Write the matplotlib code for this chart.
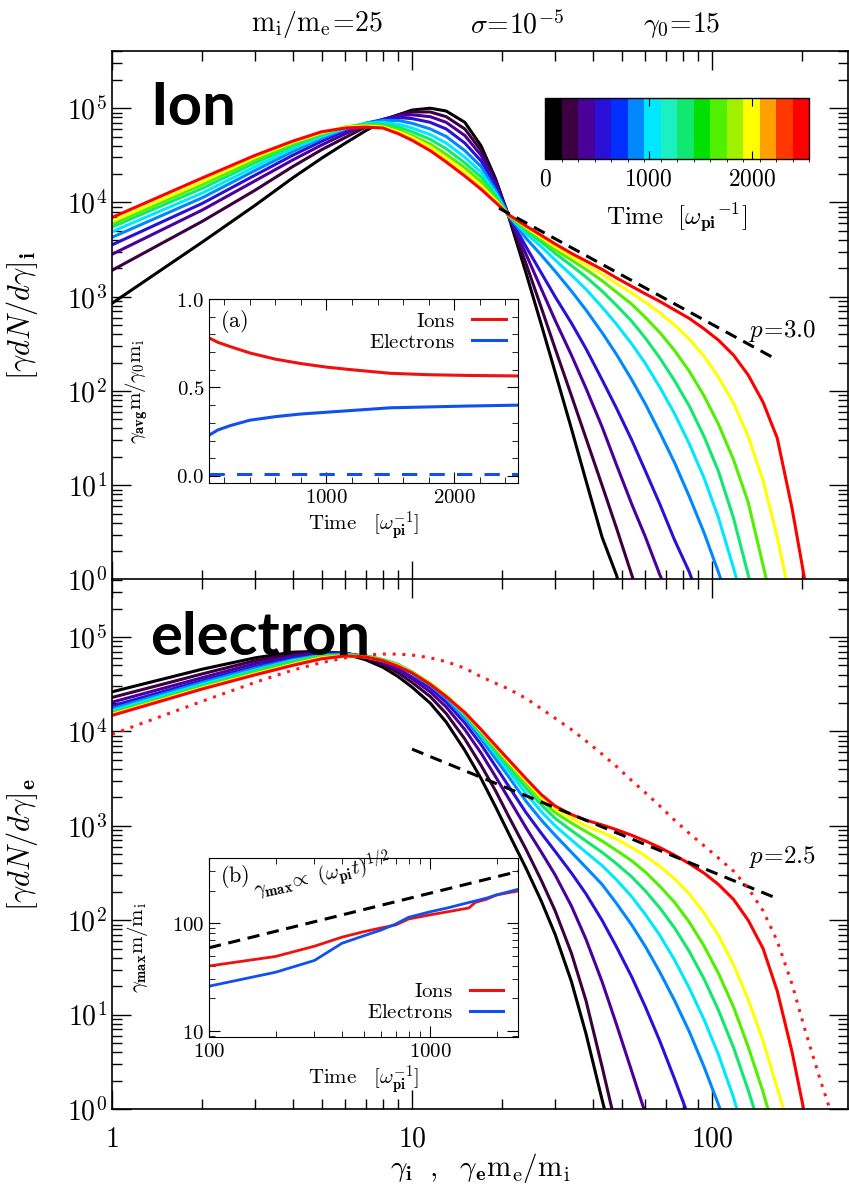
import numpy as np
import matplotlib
matplotlib.use("Agg")
import matplotlib.pyplot as plt
from matplotlib.colors import ListedColormap, BoundaryNorm
from matplotlib.ticker import FixedLocator, FuncFormatter, LogLocator, NullFormatter, MultipleLocator
from matplotlib.lines import Line2D
import matplotlib.cm as cm

plt.rcParams['mathtext.fontset'] = 'cm'
plt.rcParams['font.family'] = ['DejaVu Serif']

# ---- data (spectra given as log10 of gamma dN/dgamma) ----
gam = [1, 2, 3, 4, 5, 6, 7, 8, 9, 10, 11.5, 13, 15, 17, 19, 21, 24, 27, 30, 34, 38, 43, 48,
       54, 60, 67, 75, 84, 94, 105, 118, 132, 148, 165, 185, 205, 230, 250]
times = [0, 200, 380, 560, 800, 1050, 1350, 1650, 2000, 2500]

ion_0000 = [2.93, 3.58, 3.97, 4.26, 4.47, 4.63, 4.76, 4.86, 4.93, 4.98, 5.00, 4.97, 4.85, 4.60, 4.25, 3.85,
            3.25, 2.70, 2.20, 1.60, 1.05, 0.45, 0.05, -0.5]
ion_0200 = [3.28, 3.80, 4.13, 4.38, 4.56, 4.69, 4.80, 4.88, 4.93, 4.96, 4.96, 4.91, 4.78, 4.55, 4.23, 3.86,
            3.35, 2.88, 2.45, 1.95, 1.50, 1.00, 0.55, 0.05, -0.4]
ion_0380 = [3.45, 3.92, 4.23, 4.45, 4.61, 4.73, 4.82, 4.88, 4.92, 4.93, 4.91, 4.85, 4.71, 4.50, 4.20, 3.86,
            3.45, 3.08, 2.75, 2.38, 2.03, 1.62, 1.22, 0.80, 0.45, 0.05, -0.3]
ion_0560 = [3.55, 3.99, 4.29, 4.50, 4.65, 4.76, 4.84, 4.88, 4.90, 4.89, 4.85, 4.78, 4.63, 4.44, 4.17, 3.86,
            3.53, 3.25, 3.00, 2.72, 2.45, 2.12, 1.82, 1.48, 1.15, 0.80, 0.42, 0.08, -0.35]
ion_0800 = [3.63, 4.05, 4.34, 4.54, 4.68, 4.78, 4.84, 4.87, 4.87, 4.84, 4.78, 4.70, 4.55, 4.38, 4.13, 3.86,
            3.62, 3.44, 3.27, 3.06, 2.86, 2.62, 2.39, 2.12, 1.86, 1.56, 1.24, 0.88, 0.50, 0.08, -0.4]
ion_1050 = [3.69, 4.10, 4.38, 4.57, 4.70, 4.79, 4.84, 4.85, 4.83, 4.79, 4.72, 4.63, 4.48, 4.32, 4.10, 3.86,
            3.67, 3.53, 3.39, 3.23, 3.08, 2.89, 2.71, 2.50, 2.29, 2.04, 1.76, 1.44, 1.08, 0.66, 0.12, -0.45]
ion_1350 = [3.74, 4.15, 4.42, 4.60, 4.72, 4.80, 4.83, 4.83, 4.80, 4.75, 4.67, 4.57, 4.42, 4.27, 4.07, 3.86,
            3.70, 3.58, 3.46, 3.33, 3.21, 3.06, 2.91, 2.74, 2.56, 2.35, 2.11, 1.84, 1.52, 1.15, 0.65, 0.05, -0.6]
ion_1650 = [3.77, 4.19, 4.45, 4.62, 4.73, 4.80, 4.82, 4.81, 4.77, 4.71, 4.62, 4.51, 4.37, 4.22, 4.04, 3.86,
            3.72, 3.61, 3.50, 3.39, 3.29, 3.17, 3.05, 2.92, 2.78, 2.62, 2.43, 2.21, 1.95, 1.65, 1.27, 0.82,
            0.15, -0.5]
ion_2000 = [3.80, 4.22, 4.48, 4.64, 4.74, 4.80, 4.81, 4.80, 4.75, 4.69, 4.59, 4.47, 4.32, 4.18, 4.02, 3.87,
            3.74, 3.63, 3.53, 3.43, 3.34, 3.24, 3.14, 3.04, 2.94, 2.83, 2.70, 2.55, 2.37, 2.15, 1.87, 1.52,
            1.05, 0.45, -0.3]
ion_2500 = [3.84, 4.26, 4.50, 4.65, 4.75, 4.79, 4.80, 4.79, 4.73, 4.66, 4.55, 4.43, 4.28, 4.14, 4.00, 3.87,
            3.75, 3.65, 3.56, 3.46, 3.38, 3.29, 3.20, 3.11, 3.03, 2.95, 2.86, 2.77, 2.66, 2.54, 2.38, 2.17,
            1.88, 1.50, 0.75, -0.05, -0.9]

el_0000 = [4.42, 4.66, 4.78, 4.84, 4.85, 4.82, 4.76, 4.68, 4.58, 4.47, 4.30, 4.10, 3.80, 3.50, 3.20, 2.92,
           2.55, 2.20, 1.85, 1.35, 0.80, 0.10, -0.5]
el_0200 = [4.36, 4.61, 4.75, 4.82, 4.84, 4.83, 4.78, 4.71, 4.62, 4.52, 4.37, 4.19, 3.92, 3.64, 3.37, 3.10,
           2.75, 2.42, 2.10, 1.65, 1.15, 0.45, -0.2]
el_0380 = [4.31, 4.57, 4.72, 4.80, 4.83, 4.83, 4.79, 4.73, 4.65, 4.56, 4.42, 4.26, 4.02, 3.77, 3.52, 3.29,
           2.98, 2.72, 2.48, 2.15, 1.80, 1.35, 0.90, 0.40, -0.05, -0.5]
el_0560 = [4.27, 4.54, 4.69, 4.78, 4.82, 4.82, 4.80, 4.75, 4.68, 4.59, 4.46, 4.31, 4.09, 3.86, 3.63, 3.42,
           3.14, 2.92, 2.73, 2.50, 2.28, 2.00, 1.72, 1.40, 1.08, 0.72, 0.32, -0.10]
el_0800 = [4.24, 4.52, 4.67, 4.76, 4.81, 4.82, 4.80, 4.76, 4.70, 4.61, 4.49, 4.35, 4.14, 3.92, 3.71, 3.52,
           3.26, 3.06, 2.90, 2.72, 2.56, 2.38, 2.18, 1.95, 1.72, 1.45, 1.15, 0.82, 0.45, 0.05, -0.4]
el_1050 = [4.22, 4.50, 4.65, 4.75, 4.80, 4.81, 4.80, 4.76, 4.71, 4.62, 4.50, 4.37, 4.17, 3.96, 3.76, 3.58,
           3.34, 3.15, 3.00, 2.85, 2.72, 2.58, 2.43, 2.25, 2.06, 1.84, 1.58, 1.28, 0.95, 0.58, 0.12, -0.4]
el_1350 = [4.20, 4.48, 4.64, 4.74, 4.80, 4.81, 4.80, 4.76, 4.71, 4.63, 4.51, 4.38, 4.18, 3.98, 3.79, 3.62,
           3.40, 3.22, 3.08, 2.95, 2.84, 2.72, 2.60, 2.46, 2.31, 2.13, 1.92, 1.67, 1.38, 1.05, 0.65, 0.20, -0.3]
el_1650 = [4.19, 4.47, 4.62, 4.72, 4.79, 4.81, 4.80, 4.76, 4.70, 4.63, 4.51, 4.38, 4.19, 4.00, 3.82, 3.66,
           3.45, 3.27, 3.14, 3.03, 2.94, 2.84, 2.74, 2.63, 2.51, 2.36, 2.19, 1.98, 1.73, 1.44, 1.08, 0.66,
           0.18, -0.35]
el_2000 = [4.18, 4.46, 4.61, 4.71, 4.78, 4.80, 4.79, 4.75, 4.70, 4.62, 4.51, 4.38, 4.20, 4.01, 3.84, 3.68,
           3.48, 3.30, 3.18, 3.08, 3.00, 2.93, 2.86, 2.77, 2.68, 2.57, 2.44, 2.28, 2.08, 1.84, 1.53, 1.16,
           0.72, 0.22, -0.3]
el_2500 = [4.17, 4.45, 4.60, 4.70, 4.77, 4.80, 4.79, 4.75, 4.69, 4.62, 4.50, 4.37, 4.20, 4.02, 3.85, 3.70,
           3.50, 3.33, 3.21, 3.12, 3.06, 3.01, 2.96, 2.90, 2.84, 2.77, 2.69, 2.60, 2.50, 2.38, 2.22, 2.00,
           1.70, 1.25, 0.60, -0.10]
el_dotted = [3.97, 4.32, 4.52, 4.65, 4.73, 4.78, 4.81, 4.82, 4.82, 4.81, 4.78, 4.74, 4.67, 4.58, 4.51, 4.45,
             4.35, 4.24, 4.14, 4.02, 3.90, 3.76, 3.63, 3.48, 3.35, 3.21, 3.06, 2.92, 2.79, 2.66, 2.52, 2.34,
             2.10, 1.78, 1.32, 0.82, 0.30, -0.05]

ion_curves = [ion_0000, ion_0200, ion_0380, ion_0560, ion_0800, ion_1050, ion_1350, ion_1650, ion_2000, ion_2500]
el_curves = [el_0000, el_0200, el_0380, el_0560, el_0800, el_1050, el_1350, el_1650, el_2000, el_2500]

# power-law guide lines
ion_pl_x = [19.5, 165]
ion_pl_y = [8700, 214]
el_pl_x = [10, 165]
el_pl_y = [6500, 170]

# inset (a): average Lorentz factor
avg_t = [80, 150, 250, 400, 600, 800, 1000, 1200, 1500, 1800, 2100, 2500]
avg_ion = [0.78, 0.755, 0.73, 0.695, 0.66, 0.635, 0.615, 0.60, 0.58, 0.572, 0.568, 0.565]
avg_el = [0.23, 0.26, 0.285, 0.315, 0.335, 0.35, 0.36, 0.37, 0.385, 0.39, 0.395, 0.40]
avg_ref = [0.01, 0.01]
avg_ref_t = [80, 2500]

# inset (b): maximum Lorentz factor
max_t = [100, 200, 300, 400, 500, 600, 700, 800, 1000, 1200, 1500, 1600, 1800, 2000, 2500]
max_ion = [40, 49, 61, 74, 83, 90, 96, 109, 119, 127, 138, 155, 166, 182, 198]
max_el = [26, 35, 45, 65, 76, 86, 98, 113, 127, 138, 155, 160, 170, 182, 205]
max_ref_t = [100, 2500]
max_ref = [59, 300]

# colour table of the colour bar
bar_colors = ['#000000', '#3c0040', '#4a0099', '#2b10d8', '#0030ff', '#0088ff',
              '#00e8ff', '#1cf0c0', '#10e870', '#00e000', '#50f000', '#a0f000',
              '#ffff00', '#ffa000', '#ff3800', '#ff0000']
t_max = 2550

W, H = 849, 1189


def box(x0, y0, x1, y1):
    return [x0 / W, 1 - y1 / H, (x1 - x0) / W, (y1 - y0) / H]


cmap = ListedColormap(bar_colors)
norm = BoundaryNorm(np.linspace(0, t_max, len(bar_colors) + 1), cmap.N)

fig = plt.figure(figsize=(W / 100, H / 100), dpi=100)
ax1 = fig.add_axes(box(112, 50.7, 848, 579.5))
ax2 = fig.add_axes(box(112, 579.5, 848, 1109))

pow_fmt = FuncFormatter(lambda v, p: r'$10^{%d}$' % round(np.log10(v)))
x_fmt = FuncFormatter(lambda v, p: r'$%d$' % round(v))

for ax, curves, pl_x, pl_y in [(ax1, ion_curves, ion_pl_x, ion_pl_y),
                               (ax2, el_curves, el_pl_x, el_pl_y)]:
    for t, c in zip(times, curves):
        ax.plot(gam[:len(c)], 10 ** np.array(c), color=cmap(norm(t)), lw=2.2)
    ax.plot(pl_x, pl_y, 'k--', lw=2.2, dashes=(4, 2.5))
    ax.set_xscale('log')
    ax.set_yscale('log')
    ax.set_xlim(1, 10 ** ((848 - 112) / 300))
    ax.set_ylim(1, 10 ** 5.61)
    ax.yaxis.set_major_locator(LogLocator(10, numticks=10))
    ax.yaxis.set_major_formatter(pow_fmt)
    ax.yaxis.set_minor_locator(LogLocator(10, subs=np.arange(2, 10), numticks=20))
    ax.yaxis.set_minor_formatter(NullFormatter())
    ax.xaxis.set_minor_formatter(NullFormatter())
    ax.tick_params(which='both', direction='in', top=True, right=True, labelsize=20)
    ax.tick_params(which='major', length=14, width=1)
    ax.tick_params(which='minor', length=7, width=1)
    for s in ax.spines.values():
        s.set_linewidth(1.2)

ax2.plot(gam[:len(el_dotted)], 10 ** np.array(el_dotted), color='#ff1a1a', lw=2.2, ls=(0, (1, 2.2)))

ax1.xaxis.set_major_formatter(NullFormatter())
ax2.xaxis.set_major_formatter(x_fmt)
ax2.tick_params(axis='x', pad=12)

ax1.set_ylabel(r'$[\gamma dN/d\gamma]_{\mathbf{i}}$', fontsize=22)
ax2.set_ylabel(r'$[\gamma dN/d\gamma]_{\mathbf{e}}$', fontsize=22)
ax1.yaxis.set_label_coords(-0.098, 0.5)
ax2.yaxis.set_label_coords(-0.098, 0.5)
fig.text(480 / W, 1 - 1168 / H, r'$\gamma_{\mathbf{i}}\ \ ,\ \ \gamma_{\mathbf{e}}\mathrm{m_e/m_i}$',
         fontsize=21, ha='center', va='center')

fig.text(317 / W, 1 - 25 / H, r'$\mathrm{m_i/m_e}\!=\!25$', fontsize=20, ha='center', va='center')
fig.text(517 / W, 1 - 25 / H, r'$\sigma\!=\!10^{-5}$', fontsize=20, ha='center', va='center')
fig.text(682 / W, 1 - 25 / H, r'$\gamma_0\!=\!15$', fontsize=20, ha='center', va='center')

ax1.text(0.052, 0.859, 'Ion', transform=ax1.transAxes, fontsize=43, fontweight='bold',
         family='Lato', va='baseline', ha='left')
ax2.text(0.052, 0.858, 'electron', transform=ax2.transAxes, fontsize=43, fontweight='bold',
         family='Lato', va='baseline', ha='left')

ax1.text(172, 430, r'$p\!=\!3.0$', fontsize=18, ha='center', va='center')
ax2.text(172, 470, r'$p\!=\!2.5$', fontsize=18, ha='center', va='center')

# colour bar
cax = fig.add_axes(box(545, 98, 809, 159))
cb = fig.colorbar(cm.ScalarMappable(norm=norm, cmap=cmap), cax=cax, orientation='horizontal')
cb.set_ticks([0, 1000, 2000])
cb.set_ticklabels([r'$0$', r'$1000$', r'$2000$'])
cax.tick_params(direction='in', length=6, top=True, bottom=True, labelsize=17, pad=6)
cb.outline.set_linewidth(1.0)
cax.set_xlabel(r'$\mathrm{Time}\ \ [\omega_{\mathbf{pi}}{}^{-1}]$', fontsize=18, labelpad=8)

# inset (a)
axa = fig.add_axes(box(209, 299, 518, 483))
axa.plot(avg_t, avg_ion, color='#ee1111', lw=2.2)
axa.plot(avg_t, avg_el, color='#1150ee', lw=2.2)
axa.plot(avg_ref_t, avg_ref, color='#1150ee', lw=2.2, ls=(0, (5, 4)))
axa.set_xlim(80, 2500)
axa.set_ylim(-0.04, 1.0)
axa.xaxis.set_major_locator(FixedLocator([1000, 2000]))
axa.xaxis.set_minor_locator(MultipleLocator(200))
axa.yaxis.set_major_locator(FixedLocator([0.0, 0.5, 1.0]))
axa.yaxis.set_minor_locator(MultipleLocator(0.1))
axa.yaxis.set_major_formatter(FuncFormatter(lambda v, p: r'$%.1f$' % v))
axa.xaxis.set_major_formatter(FuncFormatter(lambda v, p: r'$%d$' % v))
axa.tick_params(which='both', direction='in', top=True, right=True, labelsize=15)
axa.tick_params(which='major', length=8)
axa.tick_params(which='minor', length=4)
axa.set_xlabel(r'$\mathrm{Time}\ \ \ [\omega_{\mathbf{pi}}^{-1}]$', fontsize=15, labelpad=2)
axa.set_ylabel(r'$\gamma_{\mathbf{avg}}\mathrm{m}/\gamma_0\mathrm{m_i}$', fontsize=15)
axa.yaxis.set_label_coords(-0.19, 0.5)
axa.text(0.035, 0.95, r'$\mathrm{(a)}$', transform=axa.transAxes, fontsize=16, va='top')
ha = [Line2D([], [], color='#ee1111', lw=2.2), Line2D([], [], color='#1150ee', lw=2.2)]
axa.legend(ha, [r'$\mathrm{Ions}$', r'$\mathrm{Electrons}$'], loc='upper right', frameon=False,
           markerfirst=False, fontsize=15, handlelength=1.6, borderaxespad=0.2, labelspacing=0.1)

# inset (b)
axb = fig.add_axes(box(209, 858, 518, 1037))
axb.plot(max_ref_t, max_ref, 'k--', lw=2.2, dashes=(4, 2.5))
axb.plot(max_t, max_ion, color='#ee1111', lw=2.0)
axb.plot(max_t, max_el, color='#1150ee', lw=2.0)
axb.set_xscale('log')
axb.set_yscale('log')
axb.set_xlim(100, 2500)
axb.set_ylim(8.8, 400)
axb.xaxis.set_major_formatter(FuncFormatter(lambda v, p: r'$%d$' % round(v)))
axb.yaxis.set_major_formatter(FuncFormatter(lambda v, p: r'$%d$' % round(v)))
axb.xaxis.set_minor_formatter(NullFormatter())
axb.yaxis.set_minor_formatter(NullFormatter())
axb.tick_params(which='both', direction='in', top=True, right=True, labelsize=15)
axb.tick_params(which='major', length=8)
axb.tick_params(which='minor', length=4)
axb.set_xlabel(r'$\mathrm{Time}\ \ \ [\omega_{\mathbf{pi}}^{-1}]$', fontsize=15, labelpad=2)
axb.set_ylabel(r'$\gamma_{\mathbf{max}}\mathrm{m}/\mathrm{m_i}$', fontsize=15)
axb.yaxis.set_label_coords(-0.19, 0.5)
axb.text(0.035, 0.97, r'$\mathrm{(b)}$', transform=axb.transAxes, fontsize=16, va='top')
axb.text(165, 145, r'$\gamma_{\mathbf{max}}\!\propto\ (\omega_{\mathbf{pi}}t)^{1/2}$', fontsize=15,
         rotation=12, rotation_mode='anchor', ha='left', va='bottom')
axb.legend(ha, [r'$\mathrm{Ions}$', r'$\mathrm{Electrons}$'], loc='lower right', frameon=False,
           markerfirst=False, fontsize=15, handlelength=1.6, borderaxespad=0.3, labelspacing=0.1)

fig.savefig('out.png', dpi=100)
